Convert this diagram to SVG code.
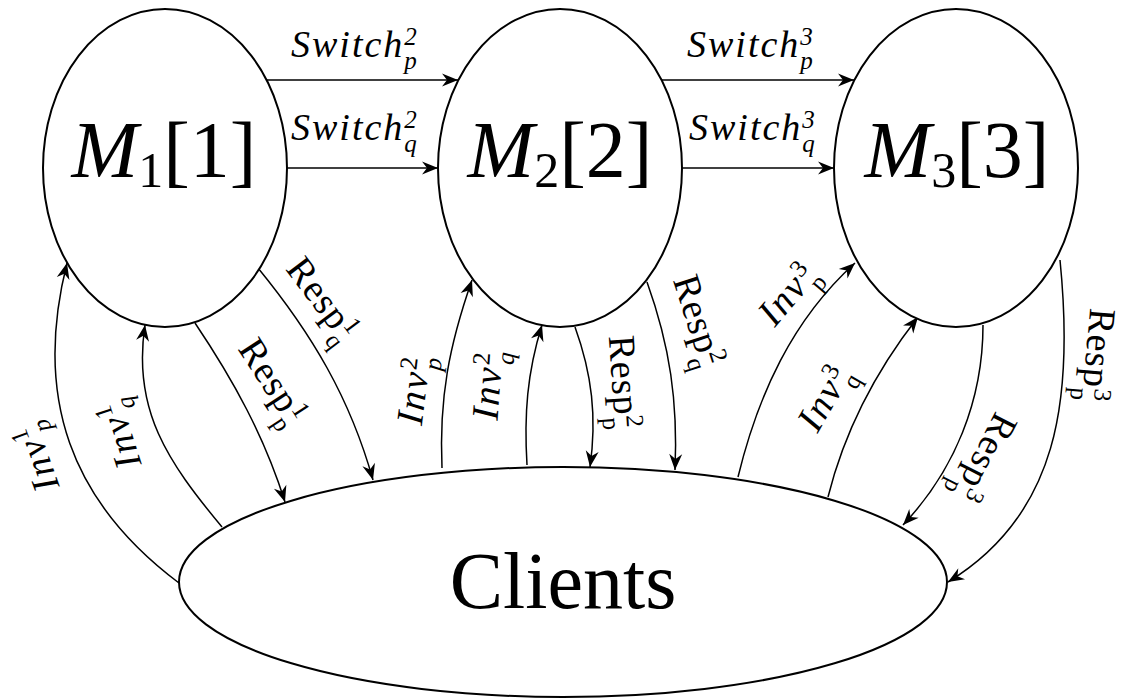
<svg xmlns="http://www.w3.org/2000/svg" width="1125" height="698" viewBox="0 0 1125 698">
<defs>
<marker id="ah" markerWidth="20" markerHeight="16" refX="0" refY="0" viewBox="-17 -8 20 16" orient="auto" markerUnits="userSpaceOnUse">
<path d="M0,0 L-16,-6.5 L-11,0 L-16,6.5 Z" fill="#000"/>
</marker>
</defs>
<rect width="1125" height="698" fill="#fff"/>
<g id="connectors" fill="none" stroke="#000" stroke-width="1.5" marker-end="url(#ah)">
<path d="M267,80 L458,80"/>
<path d="M287,168 L438,168"/>
<path d="M662,80 L854,80"/>
<path d="M682,168 L834,168"/>
<path d="M179,583 C71,502 33,398 67,263"/>
<path d="M222,527 C168,462 132,410 145,325"/>
<path d="M195,323 C234,381 264,436 285,502"/>
<path d="M258,268 C312,334 350,398 373,480"/>
<path d="M442,468 C439,398 449,346 472,280"/>
<path d="M527,465 C524,415 527,373 542,325"/>
<path d="M575,327 C592,374 597,417 590,467"/>
<path d="M647,282 C670,346 678,402 675,470"/>
<path d="M738,477 C758,395 792,320 855,263"/>
<path d="M828,497 C845,429 875,372 918,317"/>
<path d="M983,325 C983,400 955,470 903,525"/>
<path d="M1060,260 C1074,400 1058,515 948,582"/>
</g>
<g id="labels" font-size="38" fill="#000">
<text style="font-family:'Liberation Serif',serif" font-style="italic" x="291" y="57" letter-spacing="2">Switch<tspan font-size="25" dy="-12" letter-spacing="0">2</tspan><tspan font-size="25" dx="-12.5" dy="24" letter-spacing="0">p</tspan></text>
<text style="font-family:'Liberation Serif',serif" font-style="italic" x="291" y="140" letter-spacing="2">Switch<tspan font-size="25" dy="-12" letter-spacing="0">2</tspan><tspan font-size="25" dx="-12.5" dy="24" letter-spacing="0">q</tspan></text>
<text style="font-family:'Liberation Serif',serif" font-style="italic" x="687" y="57" letter-spacing="2">Switch<tspan font-size="25" dy="-12" letter-spacing="0">3</tspan><tspan font-size="25" dx="-12.5" dy="24" letter-spacing="0">p</tspan></text>
<text style="font-family:'Liberation Serif',serif" font-style="italic" x="689" y="140" letter-spacing="2">Switch<tspan font-size="25" dy="-12" letter-spacing="0">3</tspan><tspan font-size="25" dx="-12.5" dy="24" letter-spacing="0">q</tspan></text>
<g transform="translate(42,455) rotate(-110)"><text style="font-family:'Liberation Serif',serif" font-style="italic" y="6" text-anchor="middle" letter-spacing="2">Inv<tspan font-size="25" dy="-12" font-style="normal">1</tspan><tspan font-size="25" dx="-12.5" dy="24">p</tspan></text></g>
<g transform="translate(125,432) rotate(-108)"><text style="font-family:'Liberation Serif',serif" font-style="italic" y="6" text-anchor="middle" letter-spacing="2">Inv<tspan font-size="25" dy="-12" font-style="normal">1</tspan><tspan font-size="25" dx="-12.5" dy="24">q</tspan></text></g>
<g transform="translate(268,385) rotate(57)"><text style="font-family:'Liberation Serif',serif" y="6" text-anchor="middle" letter-spacing="1">Resp<tspan font-size="25" dy="-12">1</tspan><tspan font-size="25" dx="-12.5" dy="24">p</tspan></text></g>
<g transform="translate(318,303) rotate(53)"><text style="font-family:'Liberation Serif',serif" y="6" text-anchor="middle" letter-spacing="1">Resp<tspan font-size="25" dy="-12">1</tspan><tspan font-size="25" dx="-12.5" dy="24">q</tspan></text></g>
<g transform="translate(420,390) rotate(-83)"><text style="font-family:'Liberation Serif',serif" font-style="italic" y="6" text-anchor="middle" letter-spacing="2">Inv<tspan font-size="25" dy="-12" font-style="normal">2</tspan><tspan font-size="25" dx="-12.5" dy="24">p</tspan></text></g>
<g transform="translate(494,385) rotate(-86)"><text style="font-family:'Liberation Serif',serif" font-style="italic" y="6" text-anchor="middle" letter-spacing="2">Inv<tspan font-size="25" dy="-12" font-style="normal">2</tspan><tspan font-size="25" dx="-12.5" dy="24">q</tspan></text></g>
<g transform="translate(618,383) rotate(86)"><text style="font-family:'Liberation Serif',serif" y="6" text-anchor="middle" letter-spacing="1">Resp<tspan font-size="25" dy="-12">2</tspan><tspan font-size="25" dx="-12.5" dy="24">p</tspan></text></g>
<g transform="translate(693,323) rotate(72)"><text style="font-family:'Liberation Serif',serif" y="6" text-anchor="middle" letter-spacing="1">Resp<tspan font-size="25" dy="-12">2</tspan><tspan font-size="25" dx="-12.5" dy="24">q</tspan></text></g>
<g transform="translate(793,297) rotate(-50)"><text style="font-family:'Liberation Serif',serif" font-style="italic" y="6" text-anchor="middle" letter-spacing="2">Inv<tspan font-size="25" dy="-12" font-style="normal">3</tspan><tspan font-size="25" dx="-12.5" dy="24" font-style="normal">p</tspan></text></g>
<g transform="translate(830,400) rotate(-60)"><text style="font-family:'Liberation Serif',serif" font-style="italic" y="6" text-anchor="middle" letter-spacing="2">Inv<tspan font-size="25" dy="-12" font-style="normal">3</tspan><tspan font-size="25" dx="-12.5" dy="24" font-style="normal">q</tspan></text></g>
<g transform="translate(980,455) rotate(117)"><text style="font-family:'Liberation Serif',serif" y="6" text-anchor="middle" letter-spacing="1">Resp<tspan font-size="25" dy="-12">3</tspan><tspan font-size="25" dx="-12.5" dy="24">p</tspan></text></g>
<g transform="translate(1092,355) rotate(95)"><text style="font-family:'Liberation Serif',serif" y="6" text-anchor="middle" letter-spacing="1">Resp<tspan font-size="25" dy="-12">3</tspan><tspan font-size="25" dx="-12.5" dy="24">p</tspan></text></g>
</g>
<g id="nodes" fill="#fff" stroke="#000" stroke-width="2">
<g id="M1"><ellipse cx="165" cy="168" rx="122" ry="159"/><text style="font-family:'Liberation Serif',serif" font-size="80" fill="#000" stroke="none" x="164" y="177" text-anchor="middle"><tspan font-style="italic">M</tspan><tspan font-size="50" dy="10">1</tspan><tspan dy="-10">[1]</tspan></text></g>
<g id="M2"><ellipse cx="560" cy="168" rx="122" ry="159"/><text style="font-family:'Liberation Serif',serif" font-size="80" fill="#000" stroke="none" x="560" y="177" text-anchor="middle"><tspan font-style="italic">M</tspan><tspan font-size="50" dy="10">2</tspan><tspan dy="-10">[2]</tspan></text></g>
<g id="M3"><ellipse cx="956" cy="168" rx="122" ry="159"/><text style="font-family:'Liberation Serif',serif" font-size="80" fill="#000" stroke="none" x="957" y="177" text-anchor="middle"><tspan font-style="italic">M</tspan><tspan font-size="50" dy="10">3</tspan><tspan dy="-10">[3]</tspan></text></g>
<g id="Clients"><ellipse cx="563" cy="582" rx="384" ry="115"/><text style="font-family:'Liberation Serif',serif" font-size="80" fill="#000" stroke="none" x="563" y="608" text-anchor="middle">Clients</text></g>
</g>
</svg>
